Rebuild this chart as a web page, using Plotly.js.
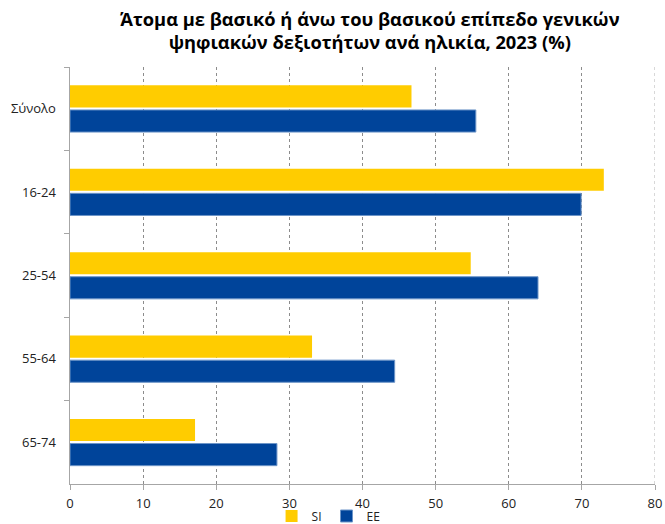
<!DOCTYPE html>
<html>
<head>
<meta charset="utf-8">
<script src="https://cdn.plot.ly/plotly-3.0.1.min.js"></script>
<style>html,body{margin:0;padding:0;background:#fff;}#chart{width:665px;height:524px;}</style>
</head>
<body>
<div id="chart"></div>
<script>
const categories = ["Σύνολο", "16-24", "25-54", "55-64", "65-74"];
const siValues = [46.7, 73.0, 54.8, 33.1, 17.1];
const eeValues = [55.5, 69.9, 64.0, 44.4, 28.3];
const xTicks = [0, 10, 20, 30, 40, 50, 60, 70, 80];

const font = "Open Sans, Liberation Sans, sans-serif";

const traces = [
  {
    type: "bar", orientation: "h", name: "SI",
    y: categories, x: siValues,
    marker: {color: "#FFCC00", line: {color: "#FFCC00", width: 0}}
  },
  {
    type: "bar", orientation: "h", name: "EE",
    y: categories, x: eeValues,
    marker: {color: "#00449A", line: {color: "#6d95c8", width: 1}}
  }
];

const layout = {
  width: 665, height: 524,
  margin: {l: 70, r: 10, t: 67, b: 40, autoexpand: false},
  paper_bgcolor: "#fff", plot_bgcolor: "#fff",
  barmode: "group", bargap: 0.41, bargroupgap: 0.1,
  showlegend: true,
  title: {
    text: "<b>Άτομα με βασικό ή άνω του βασικού επίπεδο γενικών<br>ψηφιακών δεξιοτήτων ανά ηλικία, 2023 (%)</b>",
    font: {family: font, size: 18.3, color: "#000"},
    x: 0.556, xanchor: "center", y: 0.951, yanchor: "top"
  },
  xaxis: {
    range: [0, 80], tickvals: xTicks, ticktext: xTicks.map(String),
    showgrid: true, gridcolor: "#8c8c8c", griddash: "dot", gridwidth: 1,
    showline: true, linecolor: "#a6a6a6", linewidth: 1,
    ticks: "outside", ticklen: 5, tickcolor: "#a6a6a6",
    tickfont: {family: font, size: 13, color: "#222"},
    ticklabelstandoff: 2,
    zeroline: false, fixedrange: true
  },
  yaxis: {
    type: "category", autorange: "reversed",
    showgrid: false, showline: true, linecolor: "#a6a6a6", linewidth: 1.5,
    ticks: "outside", ticklen: 5, tickcolor: "#a6a6a6", tickson: "boundaries",
    tickfont: {family: font, size: 13, color: "#222"},
    ticklabelstandoff: 10, fixedrange: true
  },
  legend: {
    orientation: "h", x: 0.442, xanchor: "center", yref: "paper", y: -0.042, yanchor: "top",
    bgcolor: "rgba(0,0,0,0)",
    font: {family: font, size: 12, color: "#222"},
    itemwidth: 30, traceorder: "normal"
  },
  shapes: [
    {type: "line", xref: "x", yref: "paper", x0: 80, x1: 80, y0: 0, y1: 1,
     line: {color: "#b0b0b0", width: 1, dash: "dot"}}
  ]
};

Plotly.newPlot("chart", traces, layout, {displayModeBar: false, staticPlot: true});
</script>
</body>
</html>
